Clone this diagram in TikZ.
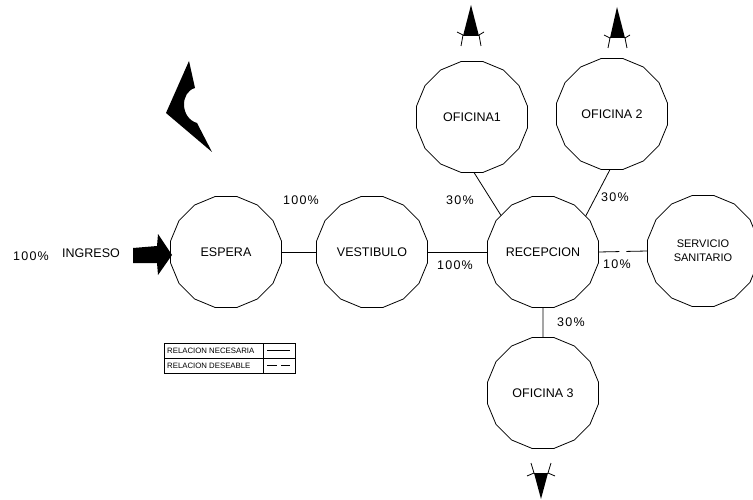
\documentclass[tikz,border=0pt]{standalone}
\usepackage{fontspec}
\setmainfont{Liberation Sans}
\newfontfamily\pctfont[LetterSpace=10]{Liberation Sans}
\usetikzlibrary{shapes.geometric}
\tikzset{
  room/.style={draw, regular polygon, regular polygon sides=16, minimum size=113pt,
    inner sep=0pt, outer sep=0pt, line width=0.8pt, font=\fontsize{12.5}{14}\selectfont},
  pct/.style={font=\pctfont\fontsize{12.5}{14}\selectfont, inner sep=0pt},
  lbl/.style={font=\fontsize{12.5}{14}\selectfont, inner sep=0pt},
  conn/.style={line width=0.8pt},
  legtxt/.style={font=\fontsize{7.8}{9}\selectfont, inner sep=0pt, anchor=west},
}
\begin{document}
\begin{tikzpicture}[x=1pt,y=-1pt]
\useasboundingbox (0,0) rectangle (753,500);
% rooms
\node[room] (esp) at (226,252) {ESPERA};
\node[room] (ves) at (372,252) {VESTIBULO};
\node[room] (rec) at (543,252) {RECEPCION};
\node[room] (of1) at (472,117) {OFICINA1};
\node[room] (of2) at (612,114) {OFICINA 2};
\node[room, font=\fontsize{11}{14}\selectfont, align=center] (ss) at (703,251) {SERVICIO\\SANITARIO};
\node[room] (of3) at (543,393) {OFICINA 3};
% connectors
\draw[conn] (esp.east) -- (ves.west);
\draw[conn] (ves.east) -- (rec.west);
\draw[conn, dash pattern=on 21pt off 7pt on 30pt] (rec.east) -- (ss.west);
\draw[conn] (rec.south) -- (of3.north);
\draw[conn] (of1.-88) -- (rec.139);
\draw[conn] (of2.-92) -- (rec.40);
% percentages
\node[pct] (p1) at (301,200) {100\%};
\node[pct] (p2) at (455,265) {100\%};
\node[pct] (p3) at (460,200) {30\%};
\node[pct] (p4) at (615,197) {30\%};
\node[pct] (p5) at (617,264) {10\%};
\node[pct] (p6) at (571,322) {30\%};
\node[pct] (p7) at (31,256) {100\%};
\node[lbl] (ing) at (91,253) {INGRESO};
% ingreso arrow
\fill (133,248) -- (157,246) -- (158,234) -- (172,255) -- (158,275) -- (157,263) -- (133,263) -- cycle;
% north arrow
\fill (189,61) -- (195,88) .. controls (180,92) and (180,118) .. (197,123) -- (212,152) -- (166,113) -- cycle;
% arrow above oficina1
\fill (471,5) -- (479,36) -- (463,36) -- cycle;
\draw[conn] (457,32) -- (463,35) -- (461,46);
\draw[conn] (484,32) -- (479,35) -- (481,46);
% arrow above oficina 2
\fill (617,7) -- (625,38) -- (610,38) -- cycle;
\draw[conn] (604,35) -- (610,38) -- (608,48);
\draw[conn] (630,35) -- (625,38) -- (627,48);
% arrow below oficina 3
\fill (541,499) -- (548,473) -- (534,473) -- cycle;
\draw[conn] (531,463) -- (534,473) -- (527,476);
\draw[conn] (551,463) -- (548,473) -- (555,476);
% legend
\draw[line width=0.6pt] (164,343) rectangle (295,373);
\draw[line width=0.6pt] (164,358) -- (295,358);
\draw[line width=0.6pt] (263,343) -- (263,373);
\node[legtxt] (l1) at (167,350.5) {RELACION NECESARIA};
\node[legtxt] (l2) at (167,365.5) {RELACION DESEABLE};
\draw[line width=0.6pt] (267,350.5) -- (290,350.5);
\draw[line width=0.6pt, dash pattern=on 10pt off 4pt] (267,365.5) -- (290,365.5);
\end{tikzpicture}
\end{document}
